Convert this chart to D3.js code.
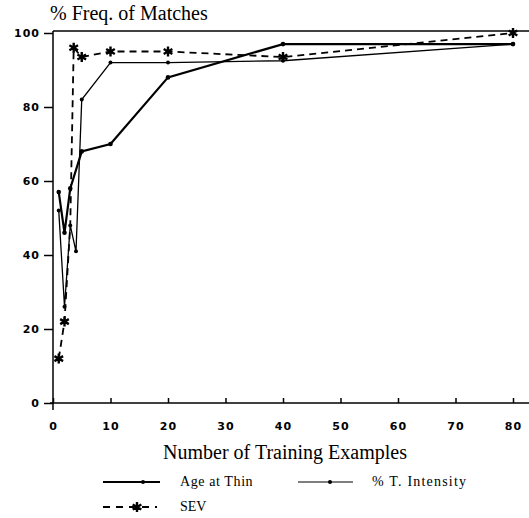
<!DOCTYPE html>
<html>
<head>
<meta charset="utf-8">
<script src="https://cdn.jsdelivr.net/npm/d3@7"></script>
<style>
  body { margin: 0; background: #fff; }
  text { fill: #000; }
</style>
</head>
<body>
<script>
// values
var xTicks = [0, 10, 20, 30, 40, 50, 60, 70, 80];
var yTicks = [0, 20, 40, 60, 80, 100];

var ageX = [1, 2, 3, 5, 10, 20, 40, 80];
var ageY = [57, 46, 58, 68, 70, 88, 97, 97];

var intX = [1, 2, 3, 4, 5, 10, 20, 40, 80];
var intY = [52, 26, 48, 41, 82, 92, 92, 92.5, 97];

var sevX = [1, 2, 3, 3.6, 5, 10, 20, 40, 80];
var sevY = [12, 22, 48, 96, 93.5, 95, 95, 93.5, 100];
var sevStar = [true, true, false, true, true, true, true, true, true];

var w = 529, h = 518;

var svg = d3.select("body").append("svg")
  .attr("width", w)
  .attr("height", h);

var x = d3.scaleLinear().domain([0, 80]).range([53, 513]);
var y = d3.scaleLinear().domain([0, 100]).range([403, 33]);

// title
svg.append("text")
  .attr("x", 50).attr("y", 20)
  .attr("font-family", "Liberation Serif")
  .attr("font-size", 20)
  .text("% Freq. of Matches");

// axes
svg.append("line")
  .attr("x1", x(0)).attr("x2", x(0))
  .attr("y1", y(100) - 2).attr("y2", y(0) + 7)
  .attr("stroke", "#000").attr("stroke-width", 1.5);
svg.append("line")
  .attr("x1", x(0) - 3).attr("x2", w)
  .attr("y1", y(0)).attr("y2", y(0))
  .attr("stroke", "#000").attr("stroke-width", 1.5);
svg.append("line")
  .attr("x1", x(0)).attr("x2", w)
  .attr("y1", y(100) - 2).attr("y2", y(100) - 2)
  .attr("stroke", "#000").attr("stroke-width", 1.5);

var xAxis = svg.append("g")
  .attr("transform", "translate(0," + y(0) + ")")
  .call(d3.axisBottom(x).tickValues(xTicks).tickSize(-5).tickPadding(19));
var yAxis = svg.append("g")
  .attr("transform", "translate(" + x(0) + ",0)")
  .call(d3.axisLeft(y).tickValues(yTicks).tickSize(9).tickPadding(4));

[xAxis, yAxis].forEach(function(g) {
  g.select(".domain").remove();
  g.selectAll("line").attr("stroke", "#000").attr("stroke-width", 1.5);
  g.selectAll("text")
    .attr("font-family", "DejaVu Sans")
    .attr("font-weight", "bold")
    .attr("font-size", 11)
    .attr("letter-spacing", 1)
    .attr("fill", "#000");
});

svg.append("text")
  .attr("x", 285).attr("y", 459)
  .attr("text-anchor", "middle")
  .attr("font-family", "Liberation Serif")
  .attr("font-size", 20)
  .text("Number of Training Examples");

// series
function pts(xs, ys) {
  return xs.map(function(v, i) { return [v, ys[i]]; });
}
var line = d3.line()
  .x(function(d) { return x(d[0]); })
  .y(function(d) { return y(d[1]); });

var age = pts(ageX, ageY);
var inten = pts(intX, intY);
var sev = pts(sevX, sevY);

svg.append("path").datum(inten)
  .attr("d", line).attr("fill", "none")
  .attr("stroke", "#000").attr("stroke-width", 1.3);
svg.append("path").datum(age)
  .attr("d", line).attr("fill", "none")
  .attr("stroke", "#000").attr("stroke-width", 2.2);
svg.append("path").datum(sev)
  .attr("d", line).attr("fill", "none")
  .attr("stroke", "#000").attr("stroke-width", 1.8)
  .attr("stroke-dasharray", "7,5");

svg.selectAll(".dotA").data(age).enter().append("circle")
  .attr("cx", function(d) { return x(d[0]); })
  .attr("cy", function(d) { return y(d[1]); })
  .attr("r", 2.3).attr("fill", "#000");
svg.selectAll(".dotI").data(inten).enter().append("circle")
  .attr("cx", function(d) { return x(d[0]); })
  .attr("cy", function(d) { return y(d[1]); })
  .attr("r", 2).attr("fill", "#000");

var star = d3.symbol().type(d3.symbolAsterisk).size(70);
function drawStar(g, cx, cy) {
  g.append("path")
    .attr("d", star())
    .attr("transform", "translate(" + cx + "," + cy + ")")
    .attr("fill", "none").attr("stroke", "#000").attr("stroke-width", 2.4);
}
sev.forEach(function(d, i) {
  if (sevStar[i]) drawStar(svg, x(d[0]), y(d[1]));
});

// legend
var lg = svg.append("g")
  .attr("font-family", "Liberation Serif").attr("font-size", 14);
lg.append("line").attr("x1", 103).attr("x2", 160).attr("y1", 482).attr("y2", 482)
  .attr("stroke", "#000").attr("stroke-width", 2);
lg.append("circle").attr("cx", 143).attr("cy", 482).attr("r", 2).attr("fill", "#000");
lg.append("text").attr("x", 180).attr("y", 486)
  .attr("letter-spacing", 0.6)
  .text("Age at Thin");

lg.append("line").attr("x1", 298).attr("x2", 353).attr("y1", 482).attr("y2", 482)
  .attr("stroke", "#000").attr("stroke-width", 1.2);
lg.append("circle").attr("cx", 330).attr("cy", 482).attr("r", 2).attr("fill", "#000");
lg.append("text").attr("x", 372).attr("y", 486)
  .attr("letter-spacing", 1.2)
  .text("% T. Intensity");

lg.append("line").attr("x1", 103).attr("x2", 157).attr("y1", 507).attr("y2", 507)
  .attr("stroke", "#000").attr("stroke-width", 1.8)
  .attr("stroke-dasharray", "7,6");
drawStar(lg, 137, 507);
lg.append("text").attr("x", 180).attr("y", 511)
  .text("SEV");
</script>
</body>
</html>
